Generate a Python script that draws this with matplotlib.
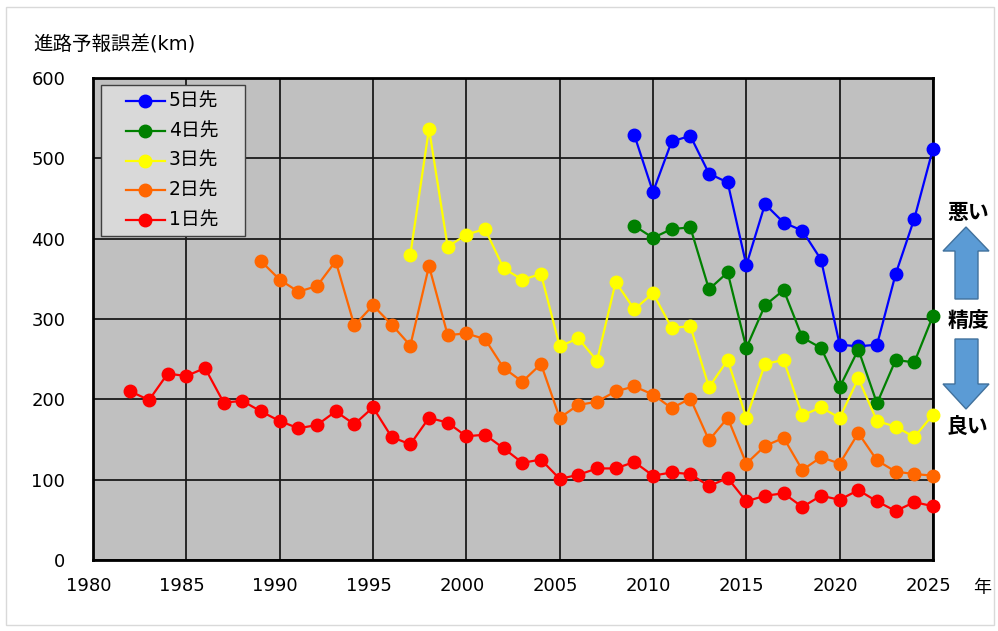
import numpy as np
import matplotlib
matplotlib.use("Agg")
import matplotlib.pyplot as plt
from matplotlib.patches import Polygon, Rectangle
from matplotlib.lines import Line2D
from matplotlib.transforms import ScaledTranslation

plt.rcParams["font.family"] = ["DejaVu Sans", "Noto Sans CJK JP"]

# Data (km)
years_1d = list(range(1982, 2026))
err_1d = [210, 199, 232, 229, 239, 196, 198, 185, 173, 164,
          168, 185, 169, 190, 153, 144, 177, 171, 154, 156,
          139, 121, 125, 101, 106, 114, 114, 122, 105, 109,
          107, 92, 102, 73, 80, 83, 66, 80, 75, 87,
          73, 61, 72, 67]

years_2d = list(range(1989, 2026))
err_2d = [372, 349, 334, 341, 372, 292, 317, 293, 267, 366,
          280, 282, 275, 239, 222, 244, 177, 193, 197, 210,
          216, 206, 189, 201, 149, 177, 120, 142, 152, 112,
          128, 120, 158, 124, 110, 107, 105]

years_3d = list(range(1997, 2026))
err_3d = [380, 537, 390, 405, 412, 363, 349, 356, 266, 276,
          248, 346, 312, 332, 289, 291, 215, 249, 177, 244,
          249, 180, 190, 177, 226, 173, 166, 153, 181]

years_4d = list(range(2009, 2026))
err_4d = [416, 401, 412, 414, 337, 358, 264, 317, 336, 277,
          264, 215, 262, 195, 249, 246, 304]

years_5d = list(range(2009, 2026))
err_5d = [529, 458, 521, 528, 481, 470, 367, 443, 420, 410,
          374, 268, 266, 268, 356, 425, 512]

series = [
    ("5日先", years_5d, err_5d, "#0000FF"),
    ("4日先", years_4d, err_4d, "#008000"),
    ("3日先", years_3d, err_3d, "#FFFF00"),
    ("2日先", years_2d, err_2d, "#FF6600"),
    ("1日先", years_1d, err_1d, "#FF0000"),
]

W, H = 998, 631
fig = plt.figure(figsize=(W / 100, H / 100), dpi=100)
ax = fig.add_axes([93 / W, 1 - 560 / H, 840 / W, 482 / H])
ax.set_facecolor("#C0C0C0")


def px(x, y):
    # pixel position (from top-left) -> figure fraction
    return (x / W, 1 - y / H)


for label, xs, ys, color in series:
    ax.plot(xs, ys, "-o", color=color, lw=1.6, ms=9, label=label,
            zorder=3, clip_on=False)

ax.set_xlim(1980, 2025)
ax.set_ylim(0, 600)
ax.set_xticks(np.arange(1980, 2026, 5))
ax.set_yticks(np.arange(0, 601, 100))
ax.grid(True, color="#1a1a1a", lw=1.3, zorder=1)
ax.set_axisbelow(True)
ax.tick_params(length=0, labelsize=13)
ax.tick_params(axis="y", pad=20)
ax.tick_params(axis="x", pad=12)
shift = ScaledTranslation(-4.5 / 100, 0, fig.dpi_scale_trans)
for lbl in ax.get_xticklabels():
    lbl.set_transform(lbl.get_transform() + shift)
for sp in ax.spines.values():
    sp.set_linewidth(2)
    sp.set_color("black")

# legend box drawn by hand to match the reference proportions
fig.patches.append(Rectangle(px(101, 236), 144 / W, 151 / H,
                             transform=fig.transFigure, facecolor="#D9D9D9",
                             edgecolor="#404040", lw=1, zorder=5))
for i, (label, xs, ys, color) in enumerate(series):
    yy = 101 + i * 29.75
    fig.add_artist(Line2D([126 / W, 165 / W], [1 - yy / H] * 2, color=color,
                          lw=1.6, zorder=6))
    fig.add_artist(Line2D([145 / W], [1 - yy / H], marker="o", ms=9,
                          color=color, zorder=7))
    fig.text(169 / W, 1 - yy / H, label, fontsize=13.5, va="center",
             ha="left", zorder=7)

fig.text(33 / W, 1 - 45 / H, "進路予報誤差(km)", fontsize=14, va="center", ha="left")
fig.text(982 / W, 1 - 588 / H, "年", fontsize=13, va="center", ha="center")

# accuracy annotation with arrows
up = [px(966, 227), px(989, 251), px(978, 251), px(978, 299),
      px(955, 299), px(955, 251), px(943, 251)]
down = [px(966, 409), px(989, 384), px(978, 384), px(978, 339),
        px(955, 339), px(955, 384), px(943, 384)]
for pts in (up, down):
    fig.patches.append(Polygon(pts, closed=True, transform=fig.transFigure,
                               facecolor="#5B9BD5", edgecolor="#41719C", lw=1))

for txt, y in (("悪い", 213), ("精度", 321), ("良い", 427)):
    fig.text(968 / W, 1 - y / H, txt, fontsize=15, fontweight="bold",
             ha="center", va="center")

fig.patches.append(Rectangle(px(6, 625), 988 / W, 618 / H,
                             transform=fig.transFigure, fill=False,
                             edgecolor="#D9D9D9", lw=1))

fig.savefig("out.png", dpi=100)
